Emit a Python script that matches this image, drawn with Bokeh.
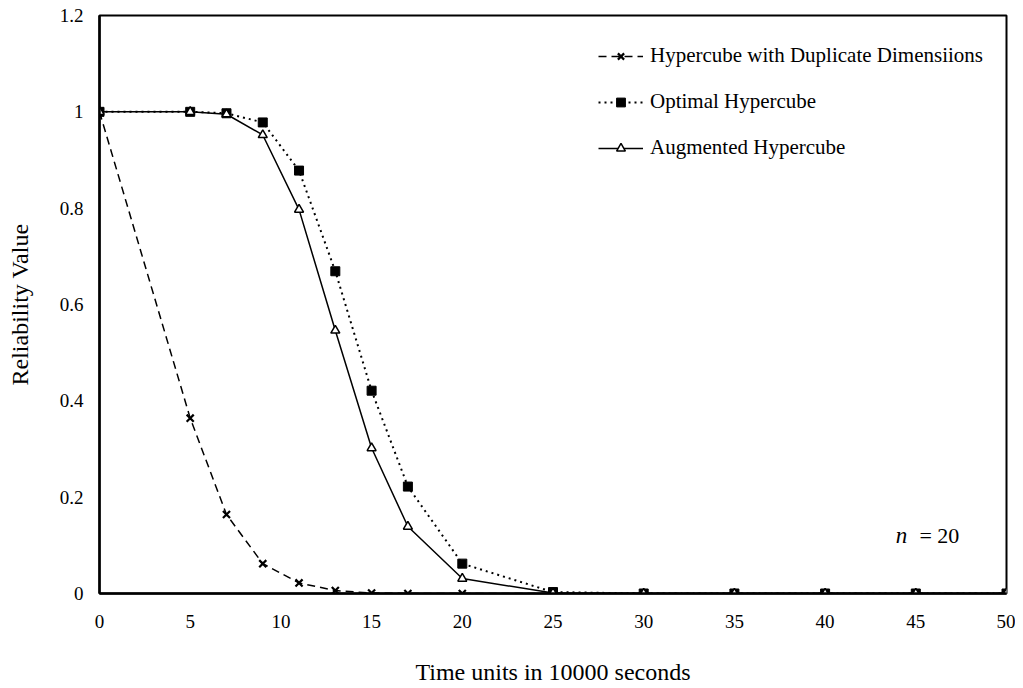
from bokeh.plotting import figure
from bokeh.models import Range1d, FixedTicker, Legend, LegendItem, Label
from bokeh.embed import file_html
from bokeh.resources import INLINE

# ---- data ----
t_dup = [0, 5, 7, 9, 11, 13, 15, 17, 20, 25, 30, 35, 40, 45, 50]
r_dup = [1.0, 0.364, 0.164, 0.062, 0.022, 0.006, 0.001, 0.0, 0.0, 0.0, 0.0, 0.0, 0.0, 0.0, 0.0]

t_opt = [0, 5, 7, 9, 11, 13, 15, 17, 20, 25, 30, 35, 40, 45, 50]
r_opt = [1.0, 1.0, 0.997, 0.978, 0.878, 0.669, 0.421, 0.222, 0.062, 0.003, 0.0, 0.0, 0.0, 0.0, 0.0]

t_aug = [0, 5, 7, 9, 11, 13, 15, 17, 20, 25, 30, 35, 40, 45, 50]
r_aug = [1.0, 1.0, 0.995, 0.952, 0.797, 0.546, 0.302, 0.139, 0.031, 0.001, 0.0, 0.0, 0.0, 0.0, 0.0]

series_names = ["Hypercube with Duplicate Dimensiions", "Optimal Hypercube", "Augmented Hypercube"]

x_ticks = [0, 5, 10, 15, 20, 25, 30, 35, 40, 45, 50]
y_ticks = [0, 0.2, 0.4, 0.6, 0.8, 1, 1.2]
y_tick_labels = ["0", "0.2", "0.4", "0.6", "0.8", "1", "1.2"]

x_title = "Time units in 10000 seconds"
y_title = "Reliability Value"

FONT = "Liberation Serif"

p = figure(width=1015, height=688, output_backend="svg", toolbar_location=None,
           x_range=Range1d(0, 50), y_range=Range1d(0, 1.2),
           min_border_left=99, min_border_right=9, min_border_top=15, min_border_bottom=95)

p.grid.visible = False
p.outline_line_color = "black"
p.outline_line_width = 2
p.background_fill_color = "white"

for ax in (p.xaxis[0], p.yaxis[0]):
    ax.axis_line_width = 2.5
    ax.axis_line_color = "black"
    ax.major_tick_out = 0
    ax.major_tick_in = 0
    ax.minor_tick_out = 0
    ax.minor_tick_in = 0
    ax.major_label_text_font = FONT
    ax.major_label_text_font_size = "19px"
    ax.major_label_text_color = "black"
    ax.axis_label_text_font = FONT
    ax.axis_label_text_font_size = "24px"
    ax.axis_label_text_font_style = "normal"
    ax.axis_label_text_color = "black"

p.xaxis.ticker = FixedTicker(ticks=x_ticks)
p.yaxis.ticker = FixedTicker(ticks=y_ticks)
p.yaxis.major_label_overrides = {v: s for v, s in zip(y_ticks, y_tick_labels)}
p.xaxis.axis_label = x_title
p.yaxis.axis_label = y_title
p.xaxis.major_label_standoff = 21
p.xaxis.axis_label_standoff = 28
p.yaxis.major_label_standoff = 16
p.yaxis.axis_label_standoff = 24

# ---- series ----
l1 = p.line(t_dup, r_dup, line_color="black", line_width=1.5, line_dash="8 5")
m1 = p.scatter(t_dup, r_dup, marker="x", size=10, line_color="black", line_width=2.2)

l2 = p.line(t_opt, r_opt, line_color="black", line_width=2, line_dash="2 4")
m2 = p.scatter(t_opt, r_opt, marker="square", size=9, fill_color="black", line_color="black")

l3 = p.line(t_aug, r_aug, line_color="black", line_width=1.5)
m3 = p.scatter(t_aug, r_aug, marker="triangle", size=9, fill_color="white", line_color="black", line_width=1.5)

legend = Legend(items=[
    LegendItem(label=series_names[0], renderers=[l1, m1]),
    LegendItem(label=series_names[1], renderers=[l2, m2]),
    LegendItem(label=series_names[2], renderers=[l3, m3]),
], location=(499, 433))
legend.border_line_color = None
legend.background_fill_alpha = 0
legend.padding = 0
legend.margin = 0
legend.glyph_width = 45
legend.glyph_height = 22
legend.label_height = 22
legend.spacing = 21
legend.label_standoff = 7
legend.label_text_font = FONT
legend.label_text_font_size = "21px"
legend.label_text_color = "black"
p.add_layout(legend, "center")

p.add_layout(Label(x=43.9, y=0.12, text="n", text_font=FONT, text_font_size="23px",
                   text_font_style="italic", text_baseline="middle", text_color="black"))
p.add_layout(Label(x=45.2, y=0.12, text="= 20", text_font=FONT, text_font_size="22px",
                   text_baseline="middle", text_color="black"))

open("out.html", "w").write(file_html(p, INLINE))
